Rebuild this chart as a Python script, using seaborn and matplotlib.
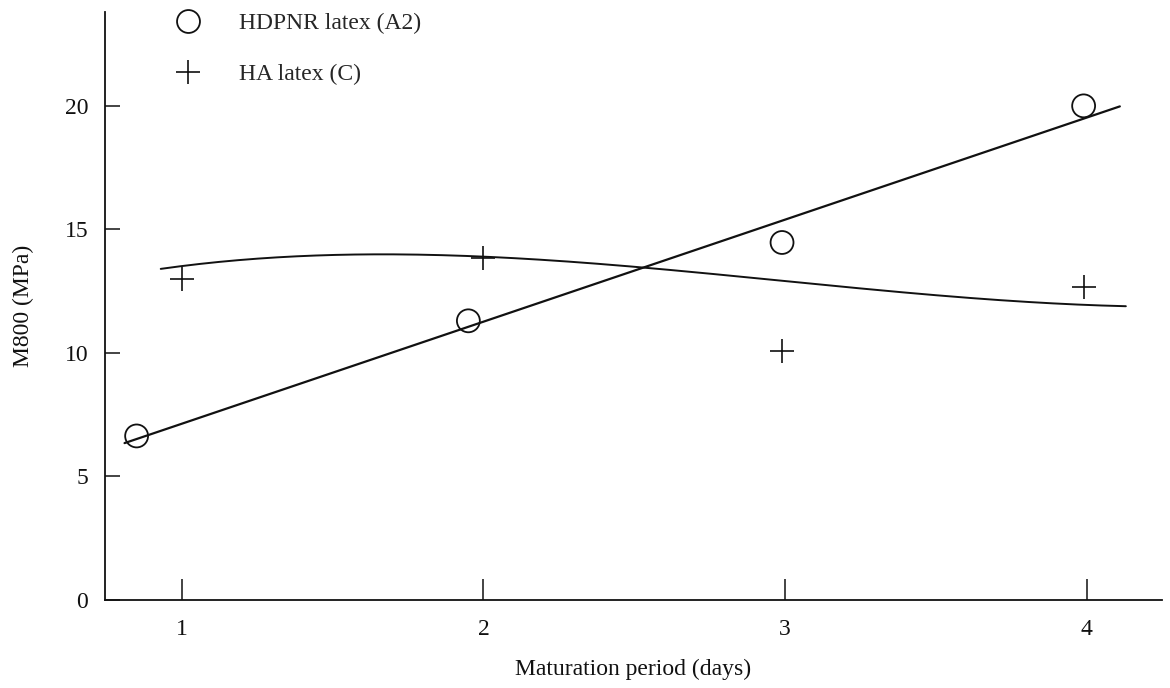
import numpy as np
import pandas as pd
import matplotlib
matplotlib.use("Agg")
import matplotlib.pyplot as plt
from matplotlib.lines import Line2D
import seaborn as sns

# Measured M800 values
hdpnr_days = [0.85, 1.95, 2.99, 3.99]
hdpnr_m800 = [6.64, 11.3, 14.47, 20.0]

ha_days = [1.0, 2.0, 2.99, 3.99]
ha_m800 = [13.0, 13.86, 10.08, 12.68]

# Smoothed trend for HA latex
ha_trend_days = [0.93, 1.0, 1.3, 1.58, 2.0, 2.5, 3.0, 3.5, 4.0, 4.13]
ha_trend_m800 = [13.32, 13.56, 13.9, 14.05, 13.85, 13.4, 12.96, 12.35, 12.0, 11.83]

x_ticks = [1, 2, 3, 4]
y_ticks = [0, 5, 10, 15, 20]

sns.set_theme(style="ticks")
plt.rcParams["font.family"] = ["Liberation Serif", "DejaVu Serif"]

fs = 17
fig = plt.figure(figsize=(11.7, 6.88), dpi=100)
ax = fig.add_axes([0.0897, 0.1279, 0.9035, 0.8547])

ink = "#111111"

# Linear fit for HDPNR latex
slope, intercept = np.polyfit(hdpnr_days, hdpnr_m800, 1)
fit_x = np.linspace(0.81, 4.11, 50)
lin_df = pd.DataFrame({"x": fit_x, "y": slope * fit_x + intercept})
sns.lineplot(data=lin_df, x="x", y="y", ax=ax, color=ink, lw=1.6)

# Smooth trend for HA latex
coef = np.polyfit(ha_trend_days, ha_trend_m800, 3)
tx = np.linspace(ha_trend_days[0], ha_trend_days[-1], 200)
trend_df = pd.DataFrame({"x": tx, "y": np.polyval(coef, tx)})
sns.lineplot(data=trend_df, x="x", y="y", ax=ax, color=ink, lw=1.4)

hd_df = pd.DataFrame({"x": hdpnr_days, "y": hdpnr_m800})
ha_df = pd.DataFrame({"x": ha_days, "y": ha_m800})
sns.scatterplot(data=hd_df, x="x", y="y", ax=ax, marker="o", s=16.5 ** 2,
                facecolor="none", edgecolor=ink, linewidth=1.3, zorder=3)
sns.scatterplot(data=ha_df, x="x", y="y", ax=ax, marker="+", s=17 ** 2,
                color=ink, linewidth=1.2, zorder=3)

ax.set_xlim(0.745, 4.25)
ax.set_ylim(0, 23.8)
ax.set_xticks(x_ticks)
ax.set_yticks(y_ticks)
ax.set_xticklabels([str(t) for t in x_ticks])
ax.set_yticklabels([str(t) for t in y_ticks])

for side in ["top", "right"]:
    ax.spines[side].set_visible(False)
for side in ["left", "bottom"]:
    ax.spines[side].set_color(ink)
    ax.spines[side].set_linewidth(1.3)

ax.tick_params(axis="x", direction="in", length=15, width=1.1, colors=ink,
               labelsize=fs, pad=14)
ax.tick_params(axis="y", direction="in", length=10.5, width=1.1, colors=ink,
               labelsize=fs, pad=12)

ax.set_xlabel("Maturation period (days)", fontsize=fs, color=ink, labelpad=13)
ax.set_ylabel("M800 (MPa)", fontsize=fs, color=ink, labelpad=22)

handles = [
    Line2D([], [], marker="o", ls="none", ms=16.5, mfc="none", mec=ink, mew=1.3),
    Line2D([], [], marker="+", ls="none", ms=17, color=ink, mew=1.2),
]
ax.legend(handles, ["HDPNR latex (A2)", "HA latex (C)"], loc="upper left",
          bbox_to_anchor=(174 / 1170, 1 - 13 / 688), bbox_transform=fig.transFigure,
          frameon=False, fontsize=fs, handletextpad=1.57, labelspacing=1.22,
          handlelength=1.2, borderpad=0.0, borderaxespad=0.0)

fig.savefig("out.png", dpi=100, facecolor="white")
